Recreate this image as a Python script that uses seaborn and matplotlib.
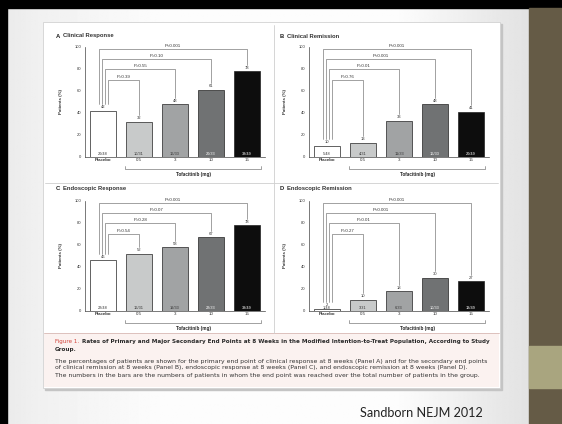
import numpy as np
import pandas as pd
import matplotlib
matplotlib.use("Agg")
import matplotlib.pyplot as plt
from matplotlib.patches import Rectangle
import seaborn as sns

# ---- data -------------------------------------------------------------
doses = ["Placebo", "0.5", "3", "10", "15"]

clinical_response = [42, 32, 48, 61, 78]
clinical_remission = [10, 13, 33, 48, 41]
endoscopic_response = [46, 52, 58, 67, 78]
endoscopic_remission = [2, 10, 18, 30, 27]

clinical_response_n = ["20/48", "10/31", "16/33", "20/33", "38/49"]
clinical_remission_n = ["5/48", "4/31", "11/33", "16/33", "20/49"]
endoscopic_response_n = ["22/48", "16/31", "19/33", "22/33", "38/49"]
endoscopic_remission_n = ["1/48", "3/31", "6/33", "10/33", "13/49"]

clinical_response_p = ["P=0.39", "P=0.55", "P=0.10", "P<0.001"]
clinical_remission_p = ["P=0.76", "P=0.01", "P<0.001", "P<0.001"]
endoscopic_response_p = ["P=0.54", "P=0.28", "P=0.07", "P<0.001"]
endoscopic_remission_p = ["P=0.27", "P=0.01", "P<0.001", "P<0.001"]

panel_letters = ["A", "B", "C", "D"]
panel_titles = ["Clinical Response", "Clinical Remission",
                "Endoscopic Response", "Endoscopic Remission"]

y_ticks = [0, 20, 40, 60, 80, 100]

caption_title = ("Rates of Primary and Major Secondary End Points at 8 Weeks in the "
                 "Modified Intention-to-Treat Population, According to Study")
caption_title2 = "Group."
caption_body = [
    "The percentages of patients are shown for the primary end point of clinical response at 8 weeks (Panel A) and for the secondary end points",
    "of clinical remission at 8 weeks (Panel B), endoscopic response at 8 weeks (Panel C), and endoscopic remission at 8 weeks (Panel D).",
    "The numbers in the bars are the numbers of patients in whom the end point was reached over the total number of patients in the group.",
]
source_note = "Sandborn NEJM 2012"

# ---- styling ----------------------------------------------------------
sns.set_theme(style="white")
plt.rcParams["font.family"] = ["Liberation Sans", "DejaVu Sans"]

W, H = 562, 424
fig = plt.figure(figsize=(W / 100, H / 100), dpi=100)

bar_palette = ["#FFFFFF", "#C8CACA", "#A1A3A4", "#6F7274", "#0D0D0D"]
count_colors = ["#333333", "#333333", "#333333", "#FFFFFF", "#FFFFFF"]


def px_rect(x0, y0, x1, y1):
    return [x0 / W, 1 - y1 / H, (x1 - x0) / W, (y1 - y0) / H]


# ---- slide background ---------------------------------------------------
bg = fig.add_axes([0, 0, 1, 1])
bg.set_xlim(0, W)
bg.set_ylim(H, 0)
bg.axis("off")
xs = np.linspace(0, 1, 400)
shade = np.interp(xs, [0, 0.05, 0.3, 0.75, 0.94, 1.0],
                  [0.92, 0.94, 0.99, 0.99, 0.91, 0.89])
grad = np.tile(shade, (50, 1))
bg.imshow(grad, extent=[7, 529, H, 8], cmap="gray", vmin=0, vmax=1,
          aspect="auto", zorder=0)
bg.add_patch(Rectangle((0, 0), W, 8, color="black", zorder=1))
bg.add_patch(Rectangle((0, 0), 7, H, color="black", zorder=1))
bg.add_patch(Rectangle((529, 8), 33, H - 8, color="#655B46", zorder=1))
bg.add_patch(Rectangle((529, 346), 33, 42, color="#A9A57F", zorder=2))

# figure card with soft shadow
bg.add_patch(Rectangle((45, 24), 457, 366, color="#C4C4C4", zorder=2))
bg.add_patch(Rectangle((43, 22), 457, 366, facecolor="white",
                       edgecolor="#D2D2D2", lw=0.6, zorder=3))
bg.add_patch(Rectangle((44, 333), 455, 54, facecolor="#FBF2F0",
                       edgecolor="none", zorder=3))
bg.plot([44, 499], [333, 333], color="#D8B9B5", lw=0.6, zorder=4)
bg.plot([274, 274], [25, 333], color="#CFCFCF", lw=0.6, zorder=4)
bg.plot([45, 498], [183, 183], color="#CFCFCF", lw=0.6, zorder=4)

# caption (a wide face keeps the lines full-width at a small size)
cap_font = ["DejaVu Sans"]
fig.text(55 / W, 1 - 342 / H, "Figure 1.", color="#D2453C", fontsize=4.1,
         family=cap_font, va="center", ha="left")
fig.text(82 / W, 1 - 342 / H, caption_title, color="#2A2A2A", fontsize=4.1,
         family=cap_font, fontweight="bold", va="center", ha="left")
fig.text(55 / W, 1 - 349 / H, caption_title2, color="#2A2A2A", fontsize=4.1,
         family=cap_font, fontweight="bold", va="center", ha="left")
for k, line in enumerate(caption_body):
    fig.text(55 / W, 1 - (361 + 7 * k) / H, line, color="#333333",
             family=cap_font, fontsize=4.45, va="center", ha="left")

fig.text(360 / W, 1 - 417 / H, source_note, family=["Lato", "DejaVu Sans"],
         fontsize=9.1, color="#222222", va="baseline", ha="left")

# ---- the four bar panels ------------------------------------------------
panels = [
    (clinical_response, clinical_response_n, clinical_response_p, (85, 47, 265, 157)),
    (clinical_remission, clinical_remission_n, clinical_remission_p, (309, 47, 489, 157)),
    (endoscopic_response, endoscopic_response_n, endoscopic_response_p, (85, 201, 265, 311)),
    (endoscopic_remission, endoscopic_remission_n, endoscopic_remission_p, (309, 201, 489, 311)),
]

line_col = "#7C7C7C"
for idx, (values, counts, pvals, box) in enumerate(panels):
    ax = fig.add_axes(px_rect(*box))
    ax.patch.set_alpha(0)
    df = pd.DataFrame({"dose": doses, "pct": values})
    sns.barplot(data=df, x="dose", y="pct", hue="dose", order=doses,
                hue_order=doses, palette=bar_palette, dodge=False,
                edgecolor="#222222", linewidth=0.5, width=0.7,
                legend=False, ax=ax)
    ax.set_xlim(-0.5, 4.5)
    ax.set_ylim(0, 100)
    ax.set_yticks(y_ticks)
    ax.set_yticklabels([str(t) for t in y_ticks], fontsize=3, color="#333333")
    ax.set_xticks(range(len(doses)))
    ax.set_xticklabels(doses, fontsize=3.2, color="#222222")
    ax.get_xticklabels()[0].set_fontweight("bold")
    ax.tick_params(axis="both", length=1.5, width=0.4, pad=1, colors="#333333")
    ax.tick_params(axis="x", length=0)
    ax.set_xlabel("")
    ax.set_ylabel("")
    sns.despine(ax=ax)
    for s in ("left", "bottom"):
        ax.spines[s].set_linewidth(0.5)
        ax.spines[s].set_color("#444444")

    ax.text(-0.135, 0.5, "Patients (%)", transform=ax.transAxes, rotation=90,
            fontsize=3.2, fontweight="bold", ha="center", va="center", color="#333333")

    # values above bars and counts inside them
    for i, (v, c) in enumerate(zip(values, counts)):
        ax.text(i, v + 1.5, str(v), fontsize=3, ha="center", va="bottom",
                color="#333333")
        ax.text(i, 1.2, c, fontsize=2.8, ha="center", va="bottom",
                color=count_colors[i])

    # comparison brackets against placebo
    heights = [70, 80, 89, 98]
    for j in range(1, 5):
        xl = 0.15 - 0.09 * (j - 1)
        h = heights[j - 1]
        y0 = values[0] + 6
        y1 = values[j] + 6
        ax.plot([xl, xl, j, j], [y0, h, h, y1], color=line_col, lw=0.5,
                clip_on=False)
        ax.text((xl + j) / 2, h + 0.8, pvals[j - 1], fontsize=3.2,
                ha="center", va="bottom", color="#333333", clip_on=False)

    # tofacitinib dose bracket under the x axis
    trans = ax.get_xaxis_transform()
    ax.plot([0.6, 0.6, 4.4, 4.4], [-0.08, -0.11, -0.11, -0.08], color=line_col,
            lw=0.5, transform=trans, clip_on=False)
    ax.text(2.5, -0.14, "Tofacitinib (mg)", transform=trans, fontsize=3.3,
            fontweight="bold", ha="center", va="top", color="#222222")

    # panel heading
    tx = 56 if idx % 2 == 0 else 280
    ty = 36 if idx < 2 else 189
    fig.text(tx / W, 1 - ty / H, panel_letters[idx], fontsize=4.2,
             fontweight="bold", va="center", ha="left", color="#222222")
    fig.text((tx + 7) / W, 1 - ty / H, panel_titles[idx], fontsize=4.2,
             fontweight="bold", va="center", ha="left", color="#333333")

fig.savefig("out.png", dpi=100)
